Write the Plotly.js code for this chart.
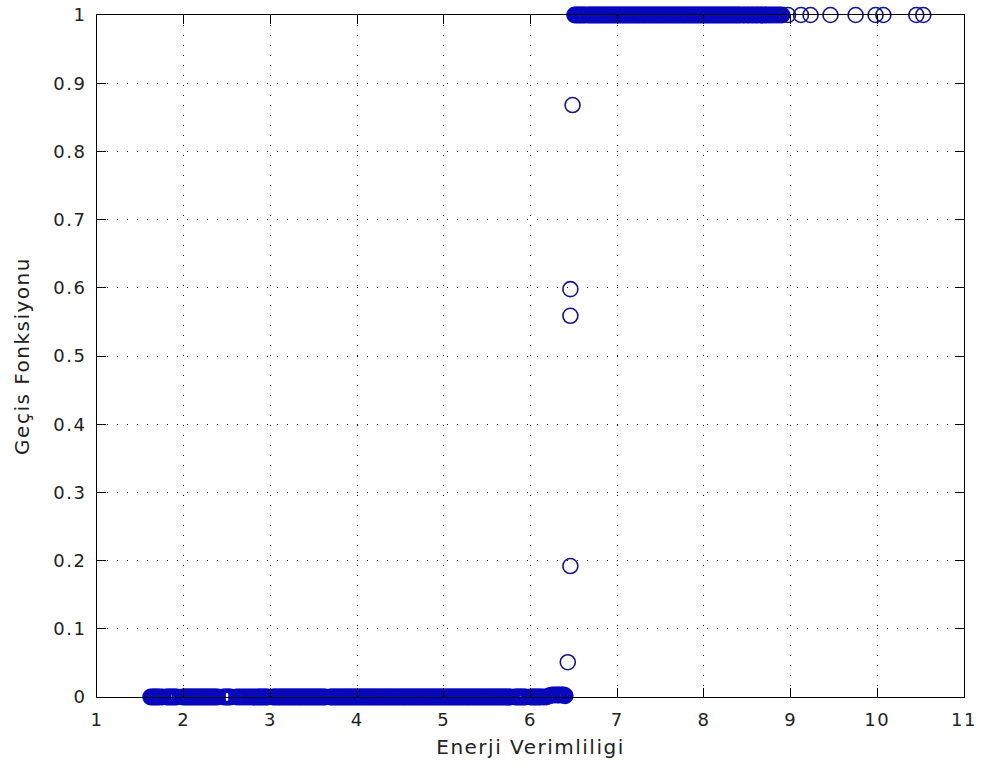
<!DOCTYPE html>
<html>
<head>
<meta charset="utf-8">
<script src="https://cdn.plot.ly/plotly-3.0.1.min.js"></script>
<style>
  html, body { margin: 0; padding: 0; background: #fff; }
  #chart { width: 981px; height: 776px; }
  .main-svg text { letter-spacing: 1.5px; }
</style>
</head>
<body>
<div id="chart"></div>
<script>
// ---- Data ----
// Observations whose transition value is 0 (lower regime, densely packed)
const lowX = [
  1.62,1.64,1.66,1.68,1.70,1.72,1.75,1.80,1.82,1.84,1.86,1.88,1.90,1.92,1.99,
  2.01,2.03,2.05,2.07,2.09,2.11,2.13,2.15,2.17,2.19,2.21,2.23,2.25,2.27,2.29,
  2.31,2.33,2.35,2.37,2.39,2.46,2.48,2.50,2.52,2.54,2.61,2.64,2.67,2.70,2.73,
  2.76,2.79,2.82,2.85,2.87,2.89,2.91,2.93,2.95,2.97,3.03,3.05,3.07,3.09,3.11,
  3.13,3.15,3.17,3.19,3.21,3.23,3.25,3.27,3.29,3.31,3.33,3.35,3.37,3.39,3.41,
  3.43,3.45,3.47,3.49,3.51,3.53,3.55,3.57,3.59,3.61,3.63,3.69,3.71,3.73,3.75,
  3.77,3.79,3.81,3.83,3.85,3.87,3.89,3.91,3.93,3.95,3.97,3.99,4.01,4.03,4.05,
  4.07,4.09,4.11,4.13,4.15,4.17,4.19,4.21,4.23,4.25,4.27,4.29,4.31,4.33,4.35,
  4.37,4.39,4.41,4.43,4.45,4.47,4.49,4.51,4.53,4.55,4.57,4.59,4.61,4.63,4.65,
  4.67,4.69,4.71,4.73,4.75,4.77,4.79,4.81,4.83,4.85,4.87,4.89,4.91,4.93,4.95,
  4.97,4.99,5.01,5.03,5.05,5.07,5.09,5.11,5.13,5.15,5.17,5.19,5.21,5.23,5.25,
  5.27,5.29,5.31,5.33,5.35,5.37,5.39,5.41,5.43,5.45,5.47,5.49,5.51,5.53,5.55,
  5.57,5.59,5.61,5.63,5.65,5.67,5.69,5.71,5.73,5.75,5.77,5.82,5.84,5.86,5.88,
  5.90,5.92,5.94,6.00,6.02,6.04,6.06,6.08,6.10,6.12,6.15,6.18
];
const lowValue = 0;

// Observations just above 0 at the start of the transition
const nearZeroX = [6.22,6.25,6.28,6.31,6.33,6.36,6.38,6.40];
const nearZeroY = [0.002,0.003,0.003,0.003,0.003,0.003,0.003,0.002];

// Observations whose transition value is 1 (upper regime, densely packed)
const highX = [
  6.51,6.53,6.55,6.57,6.59,6.61,6.63,6.66,6.68,6.70,6.72,6.74,6.76,6.78,6.80,
  6.82,6.84,6.86,6.88,6.90,6.92,6.94,6.96,6.98,7.00,7.02,7.04,7.06,7.08,7.10,
  7.12,7.14,7.16,7.18,7.20,7.22,7.24,7.26,7.28,7.30,7.32,7.34,7.36,7.38,7.40,
  7.42,7.44,7.46,7.48,7.50,7.52,7.54,7.56,7.58,7.60,7.62,7.64,7.66,7.68,7.70,
  7.72,7.74,7.76,7.78,7.80,7.82,7.84,7.86,7.88,7.90,7.92,7.94,7.96,7.98,8.00,
  8.02,8.04,8.06,8.08,8.10,8.12,8.14,8.16,8.18,8.20,8.22,8.24,8.26,8.28,8.30,
  8.32,8.34,8.36,8.38,8.40,8.42,8.45,8.47,8.50,8.52,8.55,8.57,8.60,8.62,8.65,
  8.67,8.70,8.72,8.75,8.78,8.81,8.84,8.87,8.90
];
const highValue = 1;

// Isolated upper-regime observations (y = 1)
const highSparseX = [8.97,9.12,9.23,9.46,9.75,9.98,10.07,10.45,10.53];

// Isolated observations in the transition zone (x, transition value)
const midX = [6.43,6.46,6.46,6.46,6.485];
const midY = [0.051,0.192,0.559,0.598,0.868];

const xTicks = [1,2,3,4,5,6,7,8,9,10,11];
const yTicks = [0,0.1,0.2,0.3,0.4,0.5,0.6,0.7,0.8,0.9,1];
const xTitle = 'Enerji Verimliligi';
const yTitle = 'Geçis Fonksiyonu';

// ---- Build traces ----
const markerColor = 'rgb(8,8,190)';

const denseTrace = {
  x: lowX.concat(nearZeroX, highX),
  y: lowX.map(() => lowValue).concat(nearZeroY, highX.map(() => highValue)),
  type: 'scatter',
  mode: 'markers',
  marker: {
    symbol: 'circle-open',
    size: 14,
    color: markerColor,
    line: { color: markerColor, width: 3 }
  },
  cliponaxis: false
};

const sparseTrace = {
  x: midX.concat(highSparseX),
  y: midY.concat(highSparseX.map(() => highValue)),
  type: 'scatter',
  mode: 'markers',
  marker: {
    symbol: 'circle-open',
    size: 15,
    color: 'rgb(20,20,140)',
    line: { color: 'rgb(20,20,140)', width: 1.6 }
  },
  cliponaxis: false
};

const fontFam = '"DejaVu Sans", "Liberation Sans", Arial, sans-serif';

const axisCommon = {
  showline: true,
  linecolor: '#000',
  linewidth: 1,
  mirror: 'ticks',
  ticks: 'inside',
  ticklen: 9,
  tickwidth: 1,
  tickcolor: '#000',
  showgrid: true,
  gridcolor: '#000',
  gridwidth: 1,
  griddash: '1px,9px',
  zeroline: false,
  tickfont: { family: fontFam, size: 18, color: '#222' }
};

const layout = {
  width: 981,
  height: 776,
  margin: { l: 97, r: 17, t: 15, b: 79 },
  paper_bgcolor: '#fff',
  plot_bgcolor: '#fff',
  showlegend: false,
  xaxis: Object.assign({}, axisCommon, {
    range: [1, 11],
    tickmode: 'array',
    tickvals: xTicks,
    ticktext: xTicks.map(String),
    ticklabelstandoff: 6,
    title: { text: xTitle, font: { family: fontFam, size: 20, color: '#222' }, standoff: 11 }
  }),
  yaxis: Object.assign({}, axisCommon, {
    range: [0, 1],
    tickmode: 'array',
    tickvals: yTicks,
    ticktext: yTicks.map(String),
    ticklabelstandoff: 6,
    title: { text: yTitle, font: { family: fontFam, size: 20, color: '#222' }, standoff: 22 }
  })
};

Plotly.newPlot('chart', [denseTrace, sparseTrace], layout, { displayModeBar: false, staticPlot: true });
</script>
</body>
</html>
